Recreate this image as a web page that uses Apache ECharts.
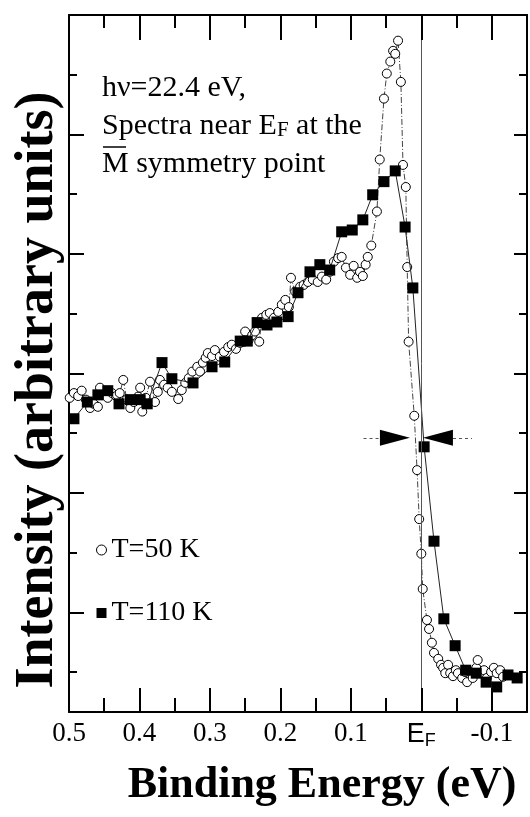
<!DOCTYPE html>
<html>
<head>
<meta charset="utf-8">
<script src="https://cdn.jsdelivr.net/npm/echarts@6/dist/echarts.min.js"></script>
<style>
html,body{margin:0;padding:0;background:#fff;}
#chart{width:530px;height:817px;}
</style>
</head>
<body>
<div id="chart"></div>
<script>
// ---- data (binding energy in eV, intensity in arbitrary units) ----
var sq110E = [0.493,0.474,0.459,0.445,0.429,0.413,0.399,0.389,0.368,0.354,
  0.324,0.297,0.279,0.257,0.247,0.233,0.219,0.205,0.189,0.175,
  0.158,0.144,0.130,0.113,0.098,0.083,0.069,0.053,0.037,0.023,
  0.012,-0.004,-0.018,-0.032,-0.048,-0.063,-0.078,-0.092,-0.107,-0.123,-0.136];
var sq110I = [4.24,4.52,4.64,4.71,4.49,4.56,4.56,4.49,5.18,4.91,
  4.84,5.11,5.19,5.54,5.54,5.85,5.81,5.86,5.95,6.35,
  6.70,6.82,6.73,7.37,7.40,7.57,7.99,8.21,8.39,7.45,
  6.43,3.77,2.19,0.89,0.44,0.03,-0.02,-0.17,-0.25,-0.05,-0.10];

var c50E = [0.499,0.493,0.487,0.482,0.476,0.470,0.465,0.459,0.456,0.450,
  0.445,0.439,0.433,0.428,0.423,0.418,0.413,0.408,0.402,0.399,
  0.396,0.391,0.385,0.378,0.374,0.371,0.365,0.360,0.354,0.345,
  0.340,0.335,0.330,0.325,0.318,0.314,0.310,0.306,0.303,0.297,
  0.293,0.286,0.280,0.274,0.269,0.263,0.257,0.250,0.245,0.240,
  0.236,0.230,0.226,0.220,0.215,0.209,0.203,0.198,0.193,0.188,
  0.185,0.179,0.172,0.167,0.161,0.154,0.147,0.141,0.135,0.130,
  0.124,0.118,0.113,0.107,0.101,0.096,0.091,0.087,0.083,0.079,
  0.076,0.071,0.063,0.059,0.053,0.049,0.044,0.040,0.037,0.033,
  0.029,0.026,0.022,0.020,0.018,0.010,0.006,0.003,0.000,-0.002,
  -0.008,-0.011,-0.015,-0.018,-0.024,-0.028,-0.031,-0.034,-0.038,-0.041,
  -0.045,-0.049,-0.052,-0.058,-0.062,-0.065,-0.069,-0.073,-0.078,-0.080,
  -0.085,-0.089,-0.093,-0.099,-0.103,-0.107,-0.112,-0.116];
var c50I = [4.59,4.67,4.62,4.71,4.56,4.42,4.49,4.44,4.76,4.64,
  4.59,4.67,4.62,4.67,4.89,4.56,4.42,4.52,4.61,4.76,
  4.36,4.59,4.86,4.52,4.69,4.89,4.81,4.76,4.69,4.57,
  4.72,4.84,4.92,5.03,5.11,5.03,5.18,5.26,5.34,5.29,
  5.39,5.28,5.36,5.44,5.48,5.41,5.51,5.70,5.56,5.64,
  5.70,5.53,5.93,5.98,6.01,5.93,6.03,6.15,6.23,6.11,
  6.60,6.37,6.45,6.48,6.53,6.57,6.53,6.62,6.57,6.70,
  6.87,6.93,6.95,6.77,6.65,6.80,6.60,6.70,6.63,6.82,
  6.95,7.14,7.71,8.58,9.60,10.02,10.22,10.40,10.35,10.57,
  9.88,8.49,8.12,6.78,5.53,4.29,3.38,2.56,1.98,1.39,
  0.87,0.72,0.49,0.32,0.22,0.12,0.07,-0.02,0.12,-0.02,
  -0.07,0.03,-0.02,-0.10,0.00,-0.17,0.00,-0.10,0.07,0.20,
  -0.02,0.03,-0.10,0.00,0.07,-0.02,0.03,-0.08];

// axis ranges, ticks and labels (binding energy in eV, 0.5 at left to -0.15 at right)
var eMax = 0.5, eMin = -0.15;
var yMin = -0.67, yMax = 11.0;
var xMajorTicks = [0.4,0.3,0.2,0.1,0,-0.1];
var xMinorTicks = [0.45,0.35,0.25,0.15,0.05,-0.05];
var xLabelStep = 0.1;
var yMajorTicks = [1,3,5,7,9];
var yMinorTicks = [0,2,4,6,8,10];

// half-maximum width marker (energy, intensity)
var fwhmLevel = 3.92;
var arrowLeftE = 0.0374, arrowRightE = -0.0236;
var dotLeft = [0.082, 0.0586], dotRight = [-0.045, -0.072];
var fermiE = 0;

var serif = "'Liberation Serif','Times New Roman',serif";
var sans = "'Liberation Sans',Arial,sans-serif";

// layout
var gridTop = 15, gridBottom = 105, chartH = 817;
var plotH = chartH - gridTop - gridBottom;
var unitsPerPx = (yMax - yMin) / plotH;

// binding energy increases to the left: plot against -E on a normal axis
function negE(v) { return v === 0 ? 0 : -v; }
function zip(a, b) { return a.map(function (v, i) { return [negE(v), b[i]]; }); }

var tickStyle = { color: '#000', width: 2, type: 'solid', opacity: 1 };
// x-axis tick marks drawn through the axis scales (inside, on bottom and top edges)
function tickSegs(vals, lenBottomPx, lenTopPx) {
  var out = [];
  vals.forEach(function (e) {
    var x = negE(e);
    out.push([{ coord: [x, yMin], lineStyle: tickStyle }, { coord: [x, yMin + lenBottomPx * unitsPerPx] }]);
    out.push([{ coord: [x, yMax], lineStyle: tickStyle }, { coord: [x, yMax - lenTopPx * unitsPerPx] }]);
  });
  return out;
}

function xAx(pos, showLabel) {
  return {
    type: 'value', position: pos, min: -eMax, max: -eMin, interval: xLabelStep,
    axisLine: { show: true, onZero: false, lineStyle: { color: '#000', width: 2 } },
    axisTick: { show: false },
    axisLabel: showLabel ? {
      show: true, margin: 8, color: '#000', showMaxLabel: false,
      fontFamily: serif, fontSize: 27,
      formatter: function (v) {
        if (Math.abs(v) < 1e-9) return '{e|E}{f|F}';
        if (Math.abs(v + eMin) < 1e-9) return '';
        return (-v).toFixed(1);
      },
      rich: {
        e: { fontFamily: sans, fontSize: 27, color: '#000', lineHeight: 30 },
        f: { fontFamily: sans, fontSize: 18, color: '#000', verticalAlign: 'bottom', lineHeight: 8 }
      }
    } : { show: false },
    splitLine: { show: false }
  };
}
function yAx(pos, ticks, len, showLine) {
  return {
    type: 'value', position: pos, min: yMin, max: yMax,
    axisLine: { show: showLine, onZero: false, lineStyle: { color: '#000', width: 2 } },
    axisTick: { show: true, inside: true, length: len, customValues: ticks, lineStyle: { color: '#000', width: 2 } },
    axisLabel: { show: false },
    splitLine: { show: false }
  };
}

var markData = [
  { xAxis: fermiE, lineStyle: { color: '#555', width: 1, type: 'solid' } },
  [{ coord: [negE(dotLeft[0]), fwhmLevel], lineStyle: { color: '#555', width: 1, type: [3, 3] } }, { coord: [negE(dotLeft[1]), fwhmLevel] }],
  [{ coord: [negE(dotRight[0]), fwhmLevel], lineStyle: { color: '#555', width: 1, type: [3, 3] } }, { coord: [negE(dotRight[1]), fwhmLevel] }]
].concat(tickSegs(xMinorTicks, 14, 13)).concat(tickSegs(xMajorTicks, 24, 25));

var chart = echarts.init(document.getElementById('chart'), null, { renderer: 'canvas' });
chart.setOption({
  animation: false,
  backgroundColor: '#fff',
  grid: { left: 69, right: 3, top: gridTop, bottom: gridBottom, containLabel: false },
  xAxis: [ xAx('bottom', true), xAx('top', false) ],
  yAxis: [
    yAx('left', yMinorTicks, 8, true),
    yAx('left', yMajorTicks, 15, false),
    yAx('right', yMinorTicks, 8, true),
    yAx('right', yMajorTicks, 13, false)
  ],
  legend: {
    orient: 'vertical', left: 91, top: 531, itemGap: 35,
    itemWidth: 10, itemHeight: 10,
    textStyle: { fontFamily: serif, fontSize: 28, color: '#000' },
    data: [
      { name: 'T=50 K', icon: 'circle', itemStyle: { color: '#fff', borderColor: '#000', borderWidth: 1 } },
      { name: 'T=110 K', icon: 'rect', itemStyle: { color: '#000', borderWidth: 0 } }
    ]
  },
  series: [
    {
      name: 'T=50 K', type: 'line', xAxisIndex: 0, yAxisIndex: 0,
      data: zip(c50E, c50I),
      symbol: 'circle', symbolSize: 9,
      itemStyle: { color: '#fff', borderColor: '#000', borderWidth: 1 },
      lineStyle: { color: '#444', width: 1, type: [6, 2, 1, 2] },
      z: 3
    },
    {
      name: 'T=110 K', type: 'line', xAxisIndex: 0, yAxisIndex: 0,
      data: zip(sq110E, sq110I),
      symbol: 'rect', symbolSize: 11,
      itemStyle: { color: '#000', borderWidth: 0 },
      lineStyle: { color: '#222', width: 1 },
      z: 4
    },
    {
      name: 'marks', type: 'scatter', xAxisIndex: 0, yAxisIndex: 0,
      symbol: 'triangle', symbolSize: [16, 30],
      itemStyle: { color: '#000', opacity: 1 },
      data: [
        { value: [negE(arrowLeftE), fwhmLevel], symbolRotate: -90 },
        { value: [negE(arrowRightE), fwhmLevel], symbolRotate: 90 }
      ],
      markLine: {
        silent: true, symbol: ['none', 'none'], animation: false,
        label: { show: false },
        data: markData
      },
      z: 5
    }
  ],
  graphic: [
    { type: 'text', x: 102, y: 88, style: { text: 'h\u03bd=22.4 eV,', fill: '#000', font: '30px ' + serif, align: 'left', verticalAlign: 'middle', textAlign: 'left', textVerticalAlign: 'middle' } },
    { type: 'text', x: 102, y: 126, style: { text: 'Spectra near E{s|F} at the', fill: '#000', font: '30px ' + serif, align: 'left', verticalAlign: 'middle', textAlign: 'left', textVerticalAlign: 'middle',
        rich: { s: { fontFamily: serif, fontSize: 21, verticalAlign: 'bottom', lineHeight: 8, fill: '#000' } } } },
    { type: 'text', x: 102, y: 164, style: { text: 'M symmetry point', fill: '#000', font: '30px ' + serif, align: 'left', verticalAlign: 'middle', textAlign: 'left', textVerticalAlign: 'middle' } },
    { type: 'line', shape: { x1: 103, y1: 147, x2: 126, y2: 147 }, style: { stroke: '#000', lineWidth: 1.5 } },
    { type: 'text', x: 38, y: 390, rotation: Math.PI / 2, style: { text: 'Intensity (arbitrary units)', fill: '#000', font: 'bold 54px ' + serif, align: 'center', verticalAlign: 'middle', textAlign: 'center', textVerticalAlign: 'middle' } },
    { type: 'text', x: 322, y: 786, style: { text: 'Binding Energy (eV)', fill: '#000', font: 'bold 44px ' + serif, align: 'center', verticalAlign: 'middle', textAlign: 'center', textVerticalAlign: 'middle' } }
  ]
});
</script>
</body>
</html>
